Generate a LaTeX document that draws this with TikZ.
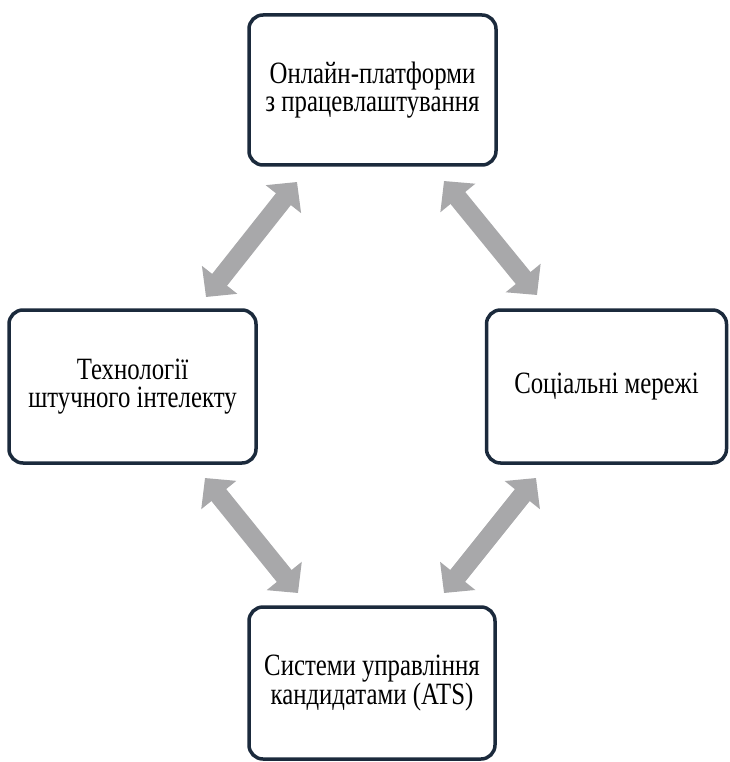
\documentclass[tikz,border=0pt]{standalone}
\usepackage{fontspec}
\setmainfont{Liberation Serif}
\newfontfamily\boxfont[FakeStretch=0.8]{Liberation Serif}
\usetikzlibrary{arrows.meta}
\definecolor{boxline}{HTML}{1B2A3C}
\definecolor{arrowgray}{HTML}{A8A8AA}
\tikzset{
  stagebox/.style={draw=boxline, line width=3.5pt, rounded corners=14pt, fill=white,
    align=center, inner sep=0pt, font=\boxfont\fontsize{31}{28}\selectfont, text=black},
  bigarrow/.style={draw=arrowgray, line width=19pt,
    {Triangle[angle=90:31pt]}-{Triangle[angle=90:31pt]}, shorten <=0pt, shorten >=0pt}
}
\begin{document}
\begin{tikzpicture}[x=1pt,y=-1pt]
\useasboundingbox (0,0) rectangle (729,762);
\node[stagebox, minimum width=247pt, minimum height=150pt] (top) at (372.5,90) {Онлайн-платформи\\з працевлаштування};
\node[stagebox, minimum width=247pt, minimum height=153pt] (left) at (132.5,386.5) {Технології\\штучного інтелекту};
\node[stagebox, minimum width=240pt, minimum height=153pt] (right) at (606.5,386.5) {Соціальні мережі};
\node[stagebox, minimum width=246pt, minimum height=152pt] (bottom) at (372,683) {Системи управління\\кандидатами (ATS)};
\coordinate (tlA) at (297,182);
\coordinate (tlB) at (206,297);
\coordinate (trA) at (444,181);
\coordinate (trB) at (537,295);
\coordinate (blA) at (205,478);
\coordinate (blB) at (298,593);
\coordinate (brA) at (536,478);
\coordinate (brB) at (444,593);
\draw[bigarrow] (tlB) -- (tlA);
\draw[bigarrow] (trA) -- (trB);
\draw[bigarrow] (blA) -- (blB);
\draw[bigarrow] (brA) -- (brB);
\end{tikzpicture}
\end{document}
